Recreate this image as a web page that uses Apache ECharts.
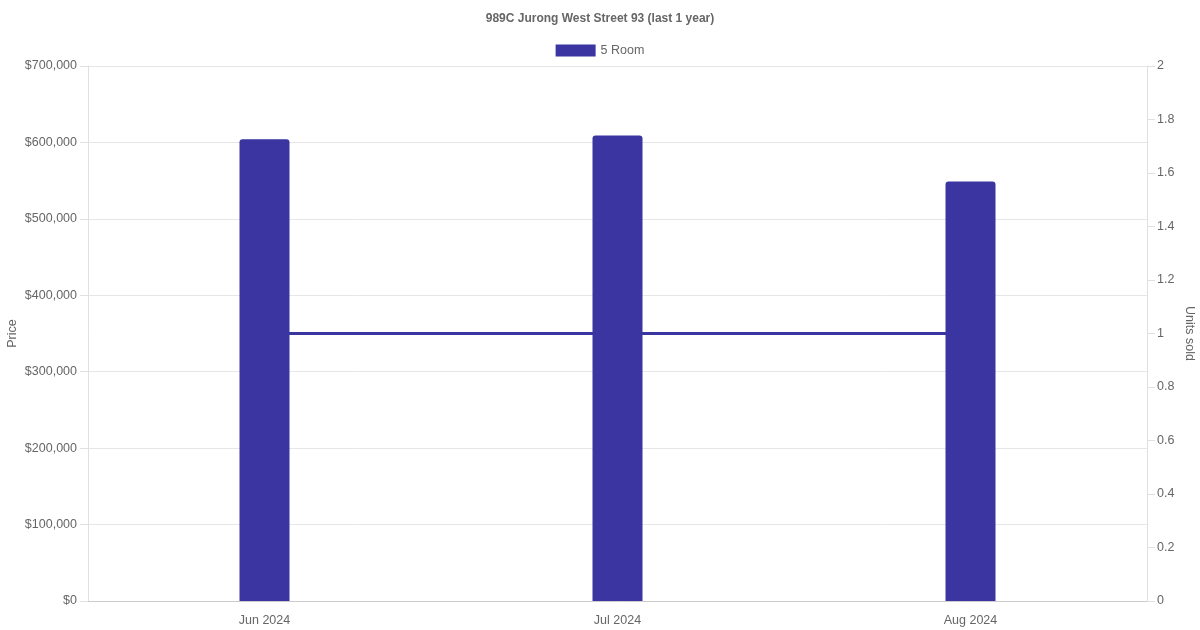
<!DOCTYPE html>
<html>
<head>
<meta charset="utf-8">
<script src="https://cdn.jsdelivr.net/npm/echarts@6/dist/echarts.min.js"></script>
<style>html,body{margin:0;padding:0;background:#fff}#c{width:1200px;height:630px}</style>
</head>
<body>
<div id="c"></div>
<script>
var categories = ['Jun 2024', 'Jul 2024', 'Aug 2024'];
var prices = [604000, 609000, 549000];
var unitsSold = [1, 1, 1];
var seriesName = '5 Room';
var titleText = '989C Jurong West Street 93 (last 1 year)';

var chart = echarts.init(document.getElementById('c'), null, {renderer: 'canvas'});
var font = 'Liberation Sans, Helvetica, Arial, sans-serif';
var color = '#3a35a0';
var fs = 12.5;
chart.setOption({
  animation: false,
  textStyle: {fontFamily: font},
  title: {text: titleText, left: 'center', top: 8, textStyle: {fontSize: 12, fontWeight: 'bold', color: '#666', fontFamily: font}},
  legend: {data: [{name: seriesName, icon: 'rect'}], top: 39, left: 'center', itemWidth: 40, itemHeight: 12, itemGap: 6,
    textStyle: {fontSize: fs, color: '#666', fontFamily: font}},
  grid: {left: 88, right: 53, top: 66, bottom: 29, containLabel: false, outerBoundsMode: 'none'},
  xAxis: {type: 'category', data: categories,
    axisLine: {lineStyle: {color: '#cccccc'}}, axisTick: {show: false},
    axisLabel: {color: '#666', fontSize: fs, margin: 13, fontFamily: font}, splitLine: {show: false}},
  yAxis: [
    {type: 'value', min: 0, max: 700000, interval: 100000, name: 'Price', nameLocation: 'middle', nameGap: 69,
      nameMoveOverlap: false,
      nameTextStyle: {color: '#666', fontSize: fs, fontFamily: font},
      axisLine: {show: true, lineStyle: {color: '#e0e0e0'}}, axisTick: {show: true, length: 8, lineStyle: {color: '#e0e0e0'}},
      axisLabel: {color: '#666', fontSize: fs, margin: 11, fontFamily: font,
        formatter: function (v) { return '$' + v.toLocaleString('en-US'); }},
      splitLine: {lineStyle: {color: '#e6e6e6'}}},
    {type: 'value', min: 0, max: 2, interval: 0.2, name: 'Units sold', nameLocation: 'middle', nameGap: 36, nameRotate: -90,
      nameMoveOverlap: false,
      nameTextStyle: {color: '#666', fontSize: fs, fontFamily: font},
      axisLine: {show: true, lineStyle: {color: '#e0e0e0'}}, axisTick: {show: true, length: 8, lineStyle: {color: '#e0e0e0'}},
      axisLabel: {color: '#666', fontSize: fs, margin: 10, fontFamily: font,
        formatter: function (v) { return String(Math.round(v * 10) / 10); }},
      splitLine: {show: false}}
  ],
  series: [
    {name: 'Units', type: 'line', yAxisIndex: 1, data: unitsSold, showSymbol: false, symbol: 'none', z: 1,
      lineStyle: {color: color, width: 3}, itemStyle: {color: color}},
    {name: seriesName, type: 'bar', yAxisIndex: 0, data: prices, barWidth: 50, z: 3,
      itemStyle: {color: color, borderRadius: [3, 3, 0, 0]}}
  ]
});
</script>
</body>
</html>
